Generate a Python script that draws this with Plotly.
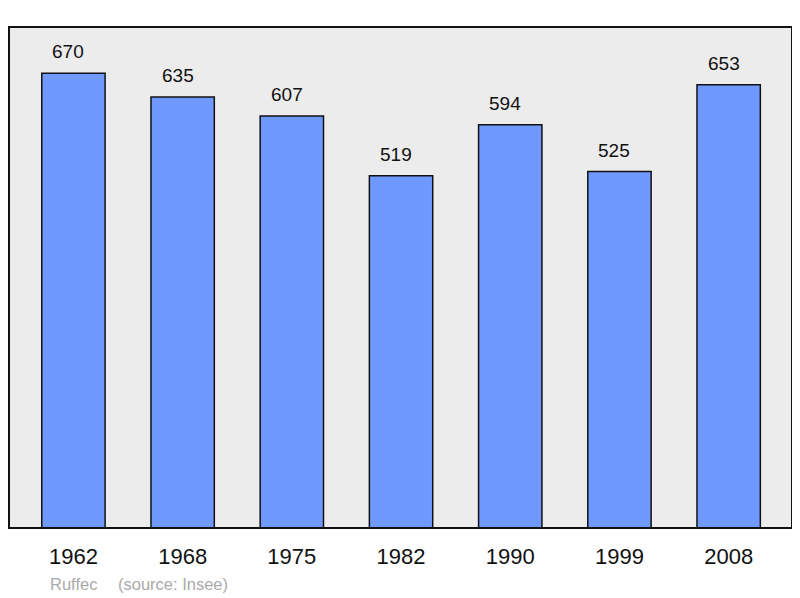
import plotly.graph_objects as go

years = ["1962", "1968", "1975", "1982", "1990", "1999", "2008"]
population = [670, 635, 607, 519, 594, 525, 653]

FONT = "Liberation Sans, Arial, sans-serif"

fig = go.Figure()
fig.add_trace(go.Bar(
    x=years, y=population,
    width=0.58,
    marker=dict(color="#7099ff", line=dict(color="#111111", width=1.5)),
    hoverinfo="x+y",
))

for i, v in enumerate(population):
    fig.add_annotation(x=i, y=v, text=str(v), showarrow=False,
                       yanchor="bottom", yshift=9, xshift=-5,
                       font=dict(family=FONT, size=19, color="#111111"))

fig.add_shape(type="rect", xref="paper", yref="paper", x0=0, y0=0, x1=1, y1=1,
              line=dict(color="#111111", width=2), layer="above")

fig.add_annotation(xref="paper", yref="paper", x=39 / 783, y=-56 / 501,
                   xanchor="left", yanchor="middle", showarrow=False,
                   text="Ruffec",
                   font=dict(family=FONT, size=16.5, color="#aaaaaa"))
fig.add_annotation(xref="paper", yref="paper", x=107 / 783, y=-56 / 501,
                   xanchor="left", yanchor="middle", showarrow=False,
                   text="(source: Insee)",
                   font=dict(family=FONT, size=16.5, color="#aaaaaa"))

fig.update_layout(
    width=792, height=590,
    margin=dict(l=1, r=8, t=19, b=70),
    paper_bgcolor="white",
    plot_bgcolor="#ececec",
    showlegend=False,
    xaxis=dict(type="category", range=[-0.59, 6.58], showgrid=False, zeroline=False,
               showline=False, ticks="", ticklabelstandoff=13,
               tickfont=dict(family=FONT, size=22, color="#111111")),
    yaxis=dict(range=[0, 738], showgrid=False, zeroline=False, showline=False,
               showticklabels=False, ticks=""),
)

fig.write_html("out.html")
